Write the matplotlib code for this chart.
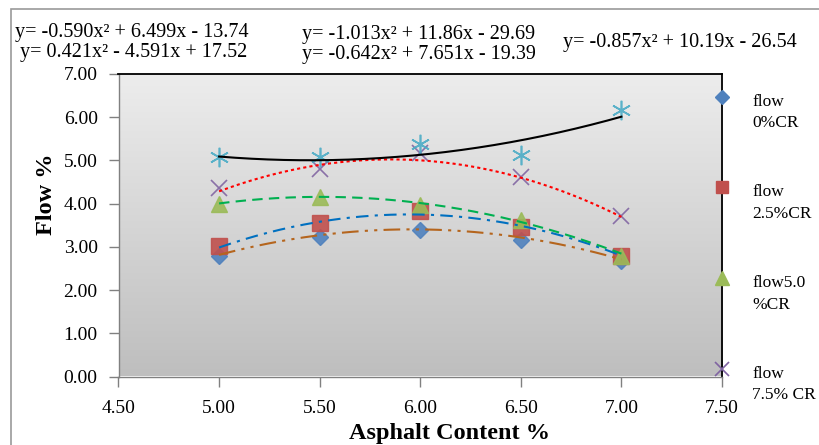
import numpy as np
import matplotlib
matplotlib.use("Agg")
import matplotlib.pyplot as plt
from matplotlib.patches import Rectangle

plt.rcParams['font.family'] = ['Liberation Serif', 'DejaVu Serif']

# ---------------- data ----------------
asphalt = [5.0, 5.5, 6.0, 6.5, 7.0]
flow_0cr = [2.78, 3.23, 3.38, 3.15, 2.67]
flow_25cr = [3.03, 3.55, 3.82, 3.46, 2.78]
flow_50cr = [3.99, 4.15, 3.97, 3.63, 2.79]
flow_75cr = [4.37, 4.80, 5.17, 4.62, 3.72]
flow_extra = [5.09, 5.08, 5.39, 5.12, 6.16]

# trendline coefficients (as shown in the chart's equations)
fit_0cr = [-0.642, 7.651, -19.39]
fit_25cr = [-0.857, 10.19, -26.54]
fit_50cr = [-0.590, 6.499, -13.74]
fit_75cr = [-1.013, 11.86, -29.69]
fit_extra = [0.421, -4.591, 17.52]

legend_labels = ["flow\n0%CR", "flow\n2.5%CR", "flow5.0\n%CR", "flow\n7.5% CR"]
equations = [
    "y= -0.590x² + 6.499x - 13.74",
    "y= 0.421x² - 4.591x + 17.52",
    "y= -1.013x² + 11.86x - 29.69",
    "y= -0.642x² + 7.651x - 19.39",
    "y= -0.857x² + 10.19x - 26.54",
]
x_ticks = [4.5, 5.0, 5.5, 6.0, 6.5, 7.0, 7.5]
y_ticks = [0, 1, 2, 3, 4, 5, 6, 7]

W, H = 819, 445
fig = plt.figure(figsize=(W / 100, H / 100), dpi=100)
fig.patch.set_facecolor('white')

# outer chart frame
fig.patches.append(Rectangle((11 / W, -0.1), 1.2, 1 - 9 / H + 0.1, transform=fig.transFigure,
                             fill=False, edgecolor='#9a9a9a', linewidth=1.2))

ax = fig.add_axes([118.5 / W, 1 - 376.5 / H, (722 - 118.5) / W, (376.5 - 74) / H])
ax.set_xlim(4.5, 7.5)
ax.set_ylim(0, 7)

# gradient background
grad = np.linspace(0, 1, 256).reshape(-1, 1)
top = np.array([237, 237, 237]) / 255
bot = np.array([190, 190, 190]) / 255
img = top[None, None, :] * (1 - grad[:, :, None]) + bot[None, None, :] * grad[:, :, None]
ax.imshow(img, extent=[0, 1, 0, 1], transform=ax.transAxes, aspect='auto', zorder=0)

series = [
    (flow_0cr, fit_0cr, dict(marker='D', color='#4f81bd', ms=8),
     dict(color='#b5651d', ls=(0, (8, 3, 1.5, 3, 1.5, 3)))),
    (flow_25cr, fit_25cr, dict(marker='s', color='#c0504d', ms=11),
     dict(color='#0070c0', ls=(0, (6, 3, 1.5, 3)))),
    (flow_50cr, fit_50cr, dict(marker='^', color='#9bbb59', ms=12),
     dict(color='#00b050', ls=(0, (5, 3)))),
    (flow_75cr, fit_75cr, dict(marker='x', color='#8064a2', ms=12, mew=1.2),
     dict(color='#ff0000', ls=(0, (1.5, 1.5)))),
    (flow_extra, fit_extra, dict(marker=(6, 2, 0), color='#4bacc6', ms=14, mew=1.2),
     dict(color='black', ls='-')),
]

xs = np.array(asphalt)
xfit = np.linspace(xs.min(), xs.max(), 200)
handles = []
for vals, coef, mk, ln in series:
    h, = ax.plot(asphalt, vals, ls='none', zorder=3, alpha=0.9, **mk)
    handles.append(h)
    ax.plot(xfit, np.polyval(coef, xfit), lw=1.5, zorder=4, **ln)

ax.set_xticks(x_ticks)
ax.set_xticklabels([f"{v:.2f}" for v in x_ticks])
ax.set_yticks(y_ticks)
ax.set_yticklabels([f"{v:.2f}" for v in y_ticks])
ax.tick_params(axis='both', direction='out', length=7, width=1, color='#808080',
               labelsize=14, labelcolor='black')
ax.tick_params(axis='x', pad=10)
ax.tick_params(axis='y', pad=8)
for s in ['top', 'right']:
    ax.spines[s].set_color('black')
    ax.spines[s].set_linewidth(1.3)
for s in ['left', 'bottom']:
    ax.spines[s].set_color('#808080')
    ax.spines[s].set_linewidth(1.0)

# legend (markers sitting on right spine)
for i, (h, lab) in enumerate(zip(handles[:4], legend_labels)):
    yy = 0.925 - i * 0.3
    ax.plot([1.0], [yy], transform=ax.transAxes, clip_on=False, ls='none',
            marker=h.get_marker(), color=h.get_color(),
            ms=h.get_markersize() * 0.85, mew=h.get_markeredgewidth(), zorder=6)
    ax.text(1.05, yy + 0.01, lab, transform=ax.transAxes, fontsize=12.5,
            va='top', ha='left', linespacing=1.45)

# axis labels
fig.text(47 / W, 1 - 194 / H, "Flow %", rotation=90, fontsize=17.5, fontweight='bold',
         ha='center', va='center')
fig.text(449 / W, 1 - 434 / H, "Asphalt Content %", fontsize=17.5, fontweight='bold',
         ha='center', va='center')

# trendline equations
eq_pos = [(15, 32), (20, 52), (302, 35), (302, 54), (563, 43)]
for eq, (px, py) in zip(equations, eq_pos):
    fig.text(px / W, 1 - py / H, eq, fontsize=14.5, ha='left', va='center')

fig.savefig("out.png", dpi=100)
